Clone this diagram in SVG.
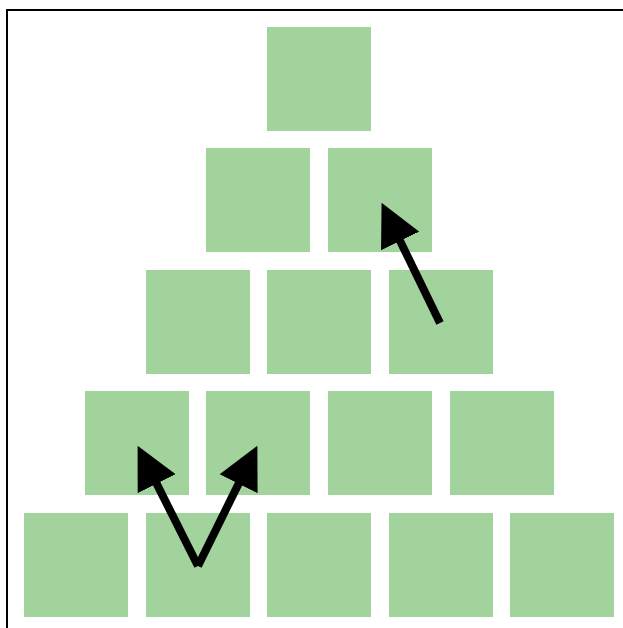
<svg xmlns="http://www.w3.org/2000/svg" width="623" height="628" viewBox="0 0 623 628">
  <style>
    .box { fill: #a3d39c; }
    .frame { fill: none; stroke: #000; stroke-width: 2; }
    .arrow { fill: none; stroke: #000; stroke-width: 8; stroke-linecap: butt; marker-end: url(#head); }
  </style>
  <defs>
    <marker id="head" viewBox="0 -3 6 6" refX="0.2" refY="0" markerWidth="5.3" markerHeight="5.3" markerUnits="strokeWidth" orient="auto">
      <path d="M0,-3 L6,0 L0,3 Z" fill="#000"/>
    </marker>
  </defs>
  <rect width="623" height="628" fill="#fff"/>
  <path class="frame" d="M7,628 V10 H623"/>
  <g id="r1c1"><rect class="box" x="267" y="27" width="104" height="104"/></g>
  <g id="r2c1"><rect class="box" x="206" y="148" width="104" height="104"/></g>
  <g id="r2c2"><rect class="box" x="328" y="148" width="104" height="104"/></g>
  <g id="r3c1"><rect class="box" x="146" y="270" width="104" height="104"/></g>
  <g id="r3c2"><rect class="box" x="267" y="270" width="104" height="104"/></g>
  <g id="r3c3"><rect class="box" x="389" y="270" width="104" height="104"/></g>
  <g id="r4c1"><rect class="box" x="85" y="391" width="104" height="104"/></g>
  <g id="r4c2"><rect class="box" x="206" y="391" width="104" height="104"/></g>
  <g id="r4c3"><rect class="box" x="328" y="391" width="104" height="104"/></g>
  <g id="r4c4"><rect class="box" x="450" y="391" width="104" height="104"/></g>
  <g id="r5c1"><rect class="box" x="24" y="513" width="104" height="104"/></g>
  <g id="r5c2"><rect class="box" x="146" y="513" width="104" height="104"/></g>
  <g id="r5c3"><rect class="box" x="267" y="513" width="104" height="104"/></g>
  <g id="r5c4"><rect class="box" x="389" y="513" width="104" height="104"/></g>
  <g id="r5c5"><rect class="box" x="510" y="513" width="104" height="104"/></g>
  <g id="connectors">
    <line class="arrow" x1="198" y1="566" x2="156" y2="482.4"/>
    <line class="arrow" x1="198" y1="566" x2="239.2" y2="482.5"/>
    <line class="arrow" x1="440" y1="323" x2="399.5" y2="239.7"/>
  </g>
</svg>
